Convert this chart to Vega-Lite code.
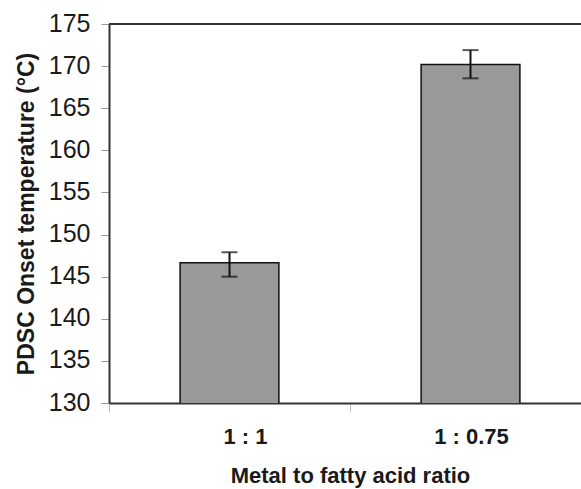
{
  "$schema": "https://vega.github.io/schema/vega-lite/v6.json",
  "width": 472,
  "height": 379,
  "autosize": {"type": "none"},
  "padding": {"left": 109, "top": 24, "right": 0, "bottom": 86},
  "background": "white",
  "config": {
    "view": {"stroke": null},
    "font": "Liberation Sans"
  },
  "data": {
    "values": [
      {"ratio": "1 : 1", "temp": 146.65, "lo": 145.0, "hi": 147.9},
      {"ratio": "1 : 0.75", "temp": 170.2, "lo": 168.55, "hi": 171.9}
    ]
  },
  "encoding": {
    "x": {
      "field": "ratio",
      "type": "nominal",
      "sort": null,
      "scale": {"range": [0, 482], "paddingInner": 0, "paddingOuter": 0},
      "axis": {
        "title": "Metal to fatty acid ratio",
        "labelAngle": 0,
        "labelFont": "Liberation Sans",
        "labelFontWeight": "bold",
        "labelFontSize": 22,
        "labelColor": "#1a1a1a",
        "labelPadding": 14,
        "labelOffset": {"condition": {"test": "datum.value === '1 : 1'", "value": 16}, "value": 1},
        "bandPosition": 0,
        "tickSize": 9,
        "tickColor": "#bbbbbb",
        "tickWidth": 1,
        "domainColor": "#333333",
        "domainWidth": 2,
        "titleFont": "Liberation Sans",
        "titleFontWeight": "bold",
        "titleFontSize": 22,
        "titleColor": "#1a1a1a",
        "titlePadding": 18,
        "titleX": 241
      }
    }
  },
  "layer": [
    {
      "mark": {"type": "bar", "clip": true, "width": {"band": 0.41}, "fill": "#999999", "stroke": "#111111", "strokeWidth": 1.5},
      "encoding": {
        "y": {
          "field": "temp",
          "type": "quantitative",
          "scale": {"domain": [130, 175], "nice": false, "zero": false},
          "axis": {
            "title": "PDSC Onset temperature (°C)",
            "values": [130, 135, 140, 145, 150, 155, 160, 165, 170, 175],
            "grid": false,
            "labelFont": "Liberation Sans",
            "labelFontSize": 25,
            "labelColor": "#1a1a1a",
            "labelPadding": 11,
            "labelOffset": -1,
            "tickSize": 8,
            "tickColor": "#999999",
            "tickWidth": 1,
            "domainColor": "#333333",
            "domainWidth": 2,
            "titleFont": "Liberation Sans",
            "titleFontWeight": "bold",
            "titleFontSize": 23,
            "titleColor": "#1a1a1a",
            "titlePadding": 10
          }
        }
      }
    },
    {
      "mark": {"type": "rule", "color": "#111111", "strokeWidth": 2},
      "encoding": {
        "y": {"field": "lo", "type": "quantitative"},
        "y2": {"field": "hi"}
      }
    },
    {
      "mark": {"type": "tick", "color": "#111111", "thickness": 2, "size": 16},
      "encoding": {"y": {"field": "lo", "type": "quantitative"}}
    },
    {
      "mark": {"type": "tick", "color": "#111111", "thickness": 2, "size": 16},
      "encoding": {"y": {"field": "hi", "type": "quantitative"}}
    },
    {
      "mark": {"type": "rule", "color": "#333333", "strokeWidth": 2},
      "encoding": {"y": {"datum": 175}, "x": {"value": 0}, "x2": {"value": 482}}
    }
  ]
}
